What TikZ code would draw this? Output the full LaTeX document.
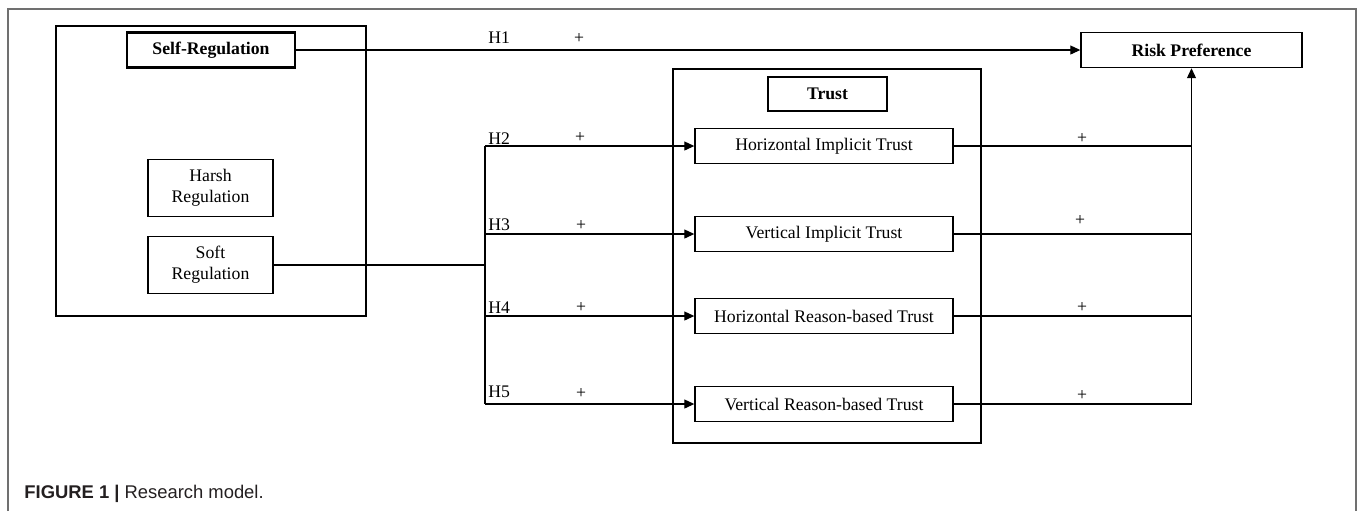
\documentclass[tikz,border=0pt]{standalone}
\usepackage{fontspec}
\setmainfont{Liberation Serif}
\setsansfont{Liberation Sans}
\usetikzlibrary{arrows.meta}
\definecolor{framegrey}{HTML}{707070}
\definecolor{captext}{HTML}{231F20}
\newcommand\diag{\fontsize{8.85}{10.6}\selectfont}

\begin{document}
\begin{tikzpicture}[x=0.5pt,y=-0.5pt,
    box/.style={draw, line width=0.7pt, inner sep=0pt, align=center, font=\diag},
    headbox/.style={box, line width=1.3pt, font=\diag\bfseries},
    hyp/.style={anchor=base west, inner sep=0pt, font=\diag},
    sign/.style={anchor=center, inner sep=0pt, font=\diag},
    link/.style={line width=0.55pt},
    >={Triangle[length=5pt,width=4.5pt]}]
    \useasboundingbox (0,0) rectangle (1357,511);

    % Frame round the figure
    \draw [framegrey, line width=0.8pt] (8,511) -- (8,9) -- (1356,9) -- (1356,511);

    % Self-regulation block
    \node [box, minimum width=155pt, minimum height=145pt] (selfbox) at (211,171) {};
    \node [headbox, minimum width=84pt, minimum height=17.5pt] (self) at (211,50) {Self-Regulation};
    \node [box, minimum width=62.5pt, minimum height=28.5pt] (harsh) at (210.5,188) {Harsh\\Regulation};
    \node [box, minimum width=62.5pt, minimum height=28.5pt] (soft) at (210.5,265) {Soft\\Regulation};

    % Outcome
    \node [headbox, line width=0.7pt, minimum width=110.5pt, minimum height=17.5pt] (risk) at (1191.5,50) {Risk Preference};

    % Trust block
    \node [box, minimum width=154pt, minimum height=187pt] (trustbox) at (827,256) {};
    \node [headbox, minimum width=59.5pt, minimum height=17pt] (trust) at (827.5,94) {Trust};
    \node [box, minimum width=129pt, minimum height=17.5pt] (hit) at (824,146) {Horizontal Implicit Trust};
    \node [box, minimum width=129pt, minimum height=17.5pt] (vit) at (824,234) {Vertical Implicit Trust};
    \node [box, minimum width=129pt, minimum height=17.5pt] (hrt) at (824,316) {Horizontal Reason-based Trust};
    \node [box, minimum width=129pt, minimum height=17.5pt] (vrt) at (824,404) {Vertical Reason-based Trust};

    % Branch points
    \coordinate (split) at (485,265);
    \coordinate (join) at (risk.south |- vrt.east);

    % H1
    \draw [link, ->] (self) -- (risk);

    % H2 - H5
    \draw [link] (soft) -- (split);
    \draw [link] (split |- hit.west) -- (split |- vrt.west);
    \foreach \t in {hit,vit,hrt,vrt}
        \draw [link, ->] (split |- \t.west) -- (\t);

    % Trust to risk preference
    \foreach \t in {hit,vit,hrt,vrt}
        \draw [link] (\t) -- (join |- \t.east);
    \draw [link, ->] (join) -- (risk);

    % Labels of the paths
    \node [hyp] (h1) at (488,43) {H1};
    \node [hyp] (h2) at (488,144) {H2};
    \node [hyp] (h3) at (488,230) {H3};
    \node [hyp] (h4) at (488,313) {H4};
    \node [hyp] (h5) at (488,397) {H5};
    \node [sign] (p1) at (579,38) {+};
    \node [sign] (p2) at (580,137) {+};
    \node [sign] (p3) at (581,225) {+};
    \node [sign] (p4) at (581,307) {+};
    \node [sign] (p5) at (581,393) {+};
    \node [sign] (q2) at (1082,138) {+};
    \node [sign] (q3) at (1080,220) {+};
    \node [sign] (q4) at (1082,307) {+};
    \node [sign] (q5) at (1082,395) {+};

    % Caption
    \node [anchor=base west, inner sep=0pt, text=captext, font=\sffamily\fontsize{9.2}{10}\selectfont] (caption) at (24,498)
        {\textbf{FIGURE 1 |} Research model.};
\end{tikzpicture}
\end{document}
